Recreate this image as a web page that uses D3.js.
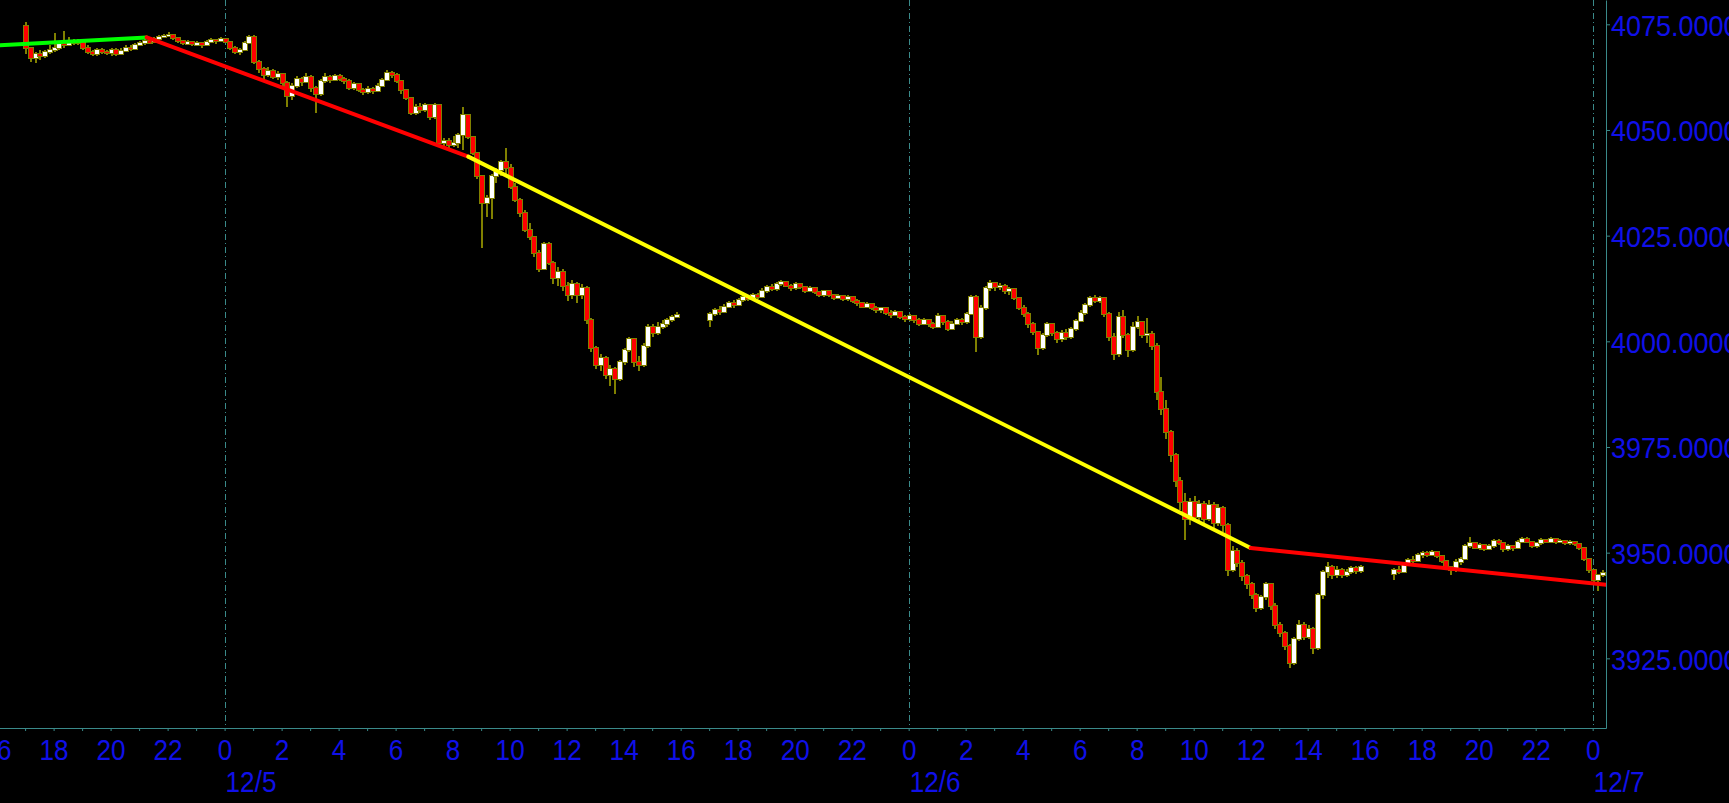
<!DOCTYPE html>
<html><head><meta charset="utf-8">
<script src="https://cdn.jsdelivr.net/npm/d3@7/dist/d3.min.js"></script>
<style>html,body{margin:0;padding:0;background:#000;overflow:hidden}</style>
</head><body><svg id="c" width="1729" height="803"></svg>
<script>
// ---- data ----
const sessionStarts = ["2022-12-04T17:00Z", "2022-12-05T17:00Z", "2022-12-06T17:00Z"];
const sessionOpens = [4074.5, 4005, 3945];
const barMinutes = 10;

const closesA = [
 4069.5,4067,4068,4067.5,4068.5,4069,
 4069.5,4070.5,4070,4071,4070.5,4071,
 4069.5,4068.5,4068,4069,4068.5,4068.2,
 4069,4068,4068.8,4069.5,4069.2,4070,
 4070.5,4071,4070.8,4071.5,4072,4072.3,
 4072.5,4071.8,4071,4070.5,4070.8,4070.3,
 4070.5,4070,4070.8,4071.3,4071,4071.5,
 4070.8,4069.5,4068.5,4069,4070.5,4072,
 4066,4064.5,4063,4064,4062.5,4063.2,
 4061,4058,4060.5,4062,4061.3,4062.5,
 4060,4058.5,4061.5,4062.5,4061.8,4062.8,
 4062,4061.5,4060,4060.8,4059.5,4059,
 4059.8,4059.2,4060.5,4061.8,4063.5,4063,
 4061.5,4059.5,4057.5,4054,4055.5,4054.7,
 4055.8,4053,4055.8,4047,4047.5,4046.5,
 4047,4048.8,4053.5,4048.3,4044.5,4039,
 4032.7,4034,4039,4040.5,4042.5,4041,
 4036.5,4033.4,4030.3,4026.3,4024.7,4020.8,
 4017,4023,4018.5,4015,4016.5,4013,
 4011,4013.5,4011,4012.5,4005,3998.5,
 3994.5,3996,3992,3993.5,3991,3995,
 3998,4000.5,3995,3994.5,3999,4003.5,
 4002,4003.5,4004,4005,4005.8,4006.3];
const highsA = [
 4075.5,4069.5,4068.5,4069,4069,4070,
 4073,4071,4073.5,4072,4071.5,4071.5,
 4071,4070,4069,4069.5,4069.5,4069,
 4069.5,4069.5,4069.3,4070,4070,4070.5,
 4071,4071.5,4071.5,4072,4072.5,4072.8,
 4073.2,4072.8,4072,4071.3,4071.2,4071,
 4071,4070.8,4071.2,4071.8,4071.6,4072,
 4071.8,4071,4069.8,4069.5,4071,4072.5,
 4072.5,4066.5,4065,4065,4064.5,4064,
 4063.5,4061.5,4061,4062.8,4062.5,4063.5,
 4063,4060.5,4062,4063.5,4063,4063.3,
 4063.2,4062.5,4062,4061.3,4061,4060,
 4060.3,4060.2,4061,4062.3,4064.2,4064,
 4063.5,4061.8,4059.8,4057.8,4056.2,4056.3,
 4056.5,4056,4056.5,4056,4048,4048,
 4048.5,4049.3,4055.4,4053.8,4048.5,4044,
 4039,4034.5,4039.5,4041,4043,4045.8,
 4042,4037.5,4034,4031,4028,4024.8,
 4021.6,4023.5,4023.5,4019,4017.5,4017,
 4014,4014.5,4014,4013.5,4013,4005.5,
 3999,3997,3996.5,3994.5,3994,3995.5,
 3998.5,4001,4000.8,3996.5,3999.5,4004,
 4004.2,4004.5,4005,4005.5,4006.3,4007];
const lowsA = [
 4068,4066,4065.8,4066.5,4067,4068,
 4068.5,4069,4069.5,4069.8,4070,4070,
 4069,4068,4067.5,4067.5,4068,4067.8,
 4067.5,4067.5,4067.8,4068.5,4068.8,4069,
 4069.8,4070,4070.3,4070.5,4071.2,4071.8,
 4072,4071.3,4070.5,4070,4070.2,4069.8,
 4069.8,4069.5,4069.8,4070.5,4070.4,4070.8,
 4070.5,4069,4068,4067.8,4068.8,4070.3,
 4065.5,4063.5,4062,4062.5,4062,4061.8,
 4060,4055.5,4057,4060,4060.5,4061,
 4059,4054,4058,4061,4061,4061.5,
 4061.5,4060.8,4059.5,4059.5,4059,4058.3,
 4058.5,4058.5,4059,4060.2,4061.5,4062.3,
 4061,4058.5,4057,4053.5,4053.5,4054,
 4054.3,4052.4,4052.6,4046.5,4046.2,4045.8,
 4046,4045.8,4045.2,4047.8,4044,4038.5,
 4022,4029.5,4029,4037.5,4039,4039.5,
 4036,4033,4029.5,4025.8,4024,4020,
 4016.5,4016.8,4018,4013.5,4013,4012,
 4009.5,4010,4009,4010,4004,3997.5,
 3993.5,3993,3991,3989.5,3987.6,3990.5,
 3994.5,3997.5,3994,3993,3994,3998.5,
 4001,4001.5,4003,4003.5,4004.5,4005.5];

const closesB = [
 4006.5,4007.5,4007,4008.2,4009,4008.5,
 4009.8,4010.5,4010,4011,4010.5,4012,
 4012.8,4012.3,4013.5,4014,4013.2,4012.5,
 4013.5,4012.8,4012,4012.5,4011.6,4011,
 4011.8,4011,4010.3,4010.8,4010,4010.5,
 4009.5,4009,4008.2,4008.8,4007.8,4007.3,
 4007.8,4006.8,4006.3,4007,4005.8,4005.3,
 4006,4005,4004.2,4005,4004,4003.5,
 4006,4004.5,4003,4004.2,4005,4004.5,
 4006.5,4010.5,4001,4008,4012.5,4013.8,
 4012.8,4013.2,4011.8,4012.3,4010.3,4008,
 4006.5,4004,4002.2,3998.5,4001.5,4004,
 4002,4000.5,4002,4001,4003,4004.8,
 4006.8,4008.5,4010.2,4009.5,4010.3,4006.5,
 4001,3997,4005.8,4001.5,3998,4003.5,
 4004.5,4001.5,4001.8,3999,3988,3984,
 3978.5,3973,3967,3962,3958,3962,
 3958.5,3961.5,3958,3961.3,3957,3960.5,
 3956.5,3946,3950.5,3947.5,3944.5,3942.5,
 3940,3937,3939.5,3942.5,3937.5,3933,
 3931,3928,3924,3929.5,3933,3930,
 3932,3927.5,3940,3945.5,3946.5,3944.8,
 3946,3944.8,3945.5,3946.3,3945.6,3946.5];
const highsB = [
 4007,4008,4008.3,4008.8,4009.5,4009.8,
 4010.3,4011,4011,4011.5,4011.5,4012.5,
 4013.3,4013.5,4014,4014.6,4014.3,4013.5,
 4014,4013.8,4013.2,4013,4012.8,4012,
 4012.2,4012,4011.3,4011.3,4011,4011,
 4010.8,4010,4009.3,4009.2,4009,4008.3,
 4008.2,4008,4007.3,4007.5,4007.2,4006.3,
 4006.5,4006.3,4005.4,4005.5,4005.3,4004.6,
 4006.6,4006.2,4005,4004.8,4005.6,4005.5,
 4007,4011,4011,4008.5,4013,4014.5,
 4014,4013.8,4013.5,4012.8,4012.5,4010.5,
 4008.5,4007,4004.5,4002.5,4002,4004.5,
 4004.3,4002.5,4002.6,4002.8,4003.5,4005.3,
 4007.3,4009,4010.8,4011,4010.8,4010.5,
 4007,4002,4007,4007.4,4002,4004.6,
 4006,4004.8,4005.5,4002.5,3999.5,3991.5,
 3986,3979,3973.5,3968,3964,3963,
 3963.5,3962.5,3962.3,3962.5,3962,3961.5,
 3961,3957,3951.5,3951,3948.3,3945,
 3943,3940.5,3940,3943,3942.8,3938,
 3933.5,3931.5,3928.5,3930,3934,3933.5,
 3933,3932.5,3940.5,3946,3947.8,3947,
 3946.8,3946.3,3946.2,3946.8,3946.8,3947];
const lowsB = [
 4003.5,4006,4006.3,4006.8,4007.8,4008,
 4008.3,4009.3,4009.5,4009.8,4010,4010.3,
 4011.5,4011.8,4012,4013,4012.8,4012,
 4012.2,4012.3,4011.5,4011.6,4011.2,4010.5,
 4010.6,4010.5,4009.8,4009.9,4009.5,4009.6,
 4009,4008.3,4007.8,4007.8,4007.3,4006.8,
 4006.8,4006.3,4005.6,4006,4005.2,4004.6,
 4004.8,4004.3,4003.6,4003.8,4003.5,4002.8,
 4003.2,4003.8,4002.4,4002.6,4003.8,4003.8,
 4004,4006.2,3997.5,4000.5,4007.5,4012,
 4012,4012.2,4011.2,4011,4009.8,4007.3,
 4005.8,4003.2,4001.5,3996.7,3998,4001,
 4001.3,3999.5,3999.8,4000.3,4000.6,4002.5,
 4004.5,4006.2,4008.2,4009,4009,4005.8,
 4000,3995.5,3996.3,4000.8,3996.3,3997.5,
 4002.8,4000.8,3999.6,3998,3986,3982.5,
 3977,3971.5,3965.5,3960,3953,3956.5,
 3957.3,3957.5,3956.7,3957.5,3955.6,3956.2,
 3955,3944.5,3945.5,3946.5,3943.3,3941.5,
 3939,3936,3936.5,3938.8,3936.5,3932,
 3930,3927,3922.8,3923.5,3929,3929.3,
 3929.5,3926,3927,3939,3944,3943.8,
 3944,3944,3944.3,3945,3945,3945.3];

const closesC = [
 3946,3945.5,3947,3948.3,3948,3949.5,
 3950,3949.4,3950.2,3949.2,3948,3946.5,
 3945.8,3947.8,3948.5,3951.5,3952.3,3951.2,
 3951.8,3950.9,3951.5,3952.8,3952.2,3950.8,
 3951.5,3951,3952.5,3953.3,3952.6,3951.6,
 3952.2,3953,3952.6,3953.2,3952.5,3952.8,
 3952.2,3952.6,3952,3951,3948.5,3945.8,
 3943.5,3944.6,3945.3];
const highsC = [
 3946.3,3946.8,3947.4,3948.8,3949.2,3950,
 3950.4,3950.3,3950.6,3950.4,3949.4,3948.2,
 3946.8,3948.5,3949,3952,3953.6,3952.6,
 3952.3,3952.1,3952,3953.2,3953.3,3952.4,
 3952,3951.8,3953,3953.8,3953.6,3952.8,
 3952.6,3953.4,3953.3,3953.6,3953.4,3953.2,
 3953,3953,3952.8,3952.2,3951.2,3948.7,
 3946,3945,3945.8];
const lowsC = [
 3943.5,3945,3945.2,3946.8,3947.6,3947.8,
 3948.8,3949,3949.1,3948.8,3947.6,3946,
 3944.7,3945.5,3947.2,3948.2,3951,3950.8,
 3950.7,3950.5,3950.6,3951.2,3951.7,3950.2,
 3950.3,3950.5,3950.8,3952.2,3952.2,3951.2,
 3951.2,3951.9,3952.2,3952.4,3952.1,3952.2,
 3951.8,3951.9,3951.6,3950.6,3948,3945.2,
 3943,3941,3944.2];

const trendGreen  = [["2022-12-04T16:00Z", 4070.0], ["2022-12-04T21:16Z", 4071.9]];
const trendRed1   = [["2022-12-04T21:16Z", 4071.9], ["2022-12-05T08:33Z", 4043.7]];
const trendYellow = [["2022-12-05T08:33Z", 4043.7], ["2022-12-06T12:00Z", 3951.1]];
const trendRed2   = [["2022-12-06T12:00Z", 3951.1], ["2022-12-07T00:30Z", 3942.4]];

const yTicks = [3925, 3950, 3975, 4000, 4025, 4050, 4075];
const dayLabels = [["2022-12-05T00:00Z", "12/5"], ["2022-12-06T00:00Z", "12/6"], ["2022-12-07T00:00Z", "12/7"]];
const xDomain = ["2022-12-04T16:00Z", "2022-12-07T00:28Z"];
const yDomain = [3908.52, 4080.75];

// ---- layout ----
const W = 1729, H = 803, plotR = 1606, plotB = 728;
const teal = "#3a8a8a", blue = "#1010e8", olive = "#808000";
const font = "'Liberation Sans',Arial,sans-serif";
const fs = 29, sx = 0.9;

const svg = d3.select("#c");
svg.append("rect").attr("width", W).attr("height", H).attr("fill", "#000");

const x = d3.scaleUtc().domain(xDomain.map(d => new Date(d))).range([-3.4, plotR]);
const y = d3.scaleLinear().domain(yDomain).range([plotB, 0]);

svg.append("defs").append("clipPath").attr("id", "clip")
  .append("rect").attr("x", 0).attr("y", 0).attr("width", plotR).attr("height", plotB);

const plot = svg.append("g").attr("clip-path", "url(#clip)");

// day separators
plot.selectAll("line.day").data(dayLabels).join("line")
  .attr("x1", d => Math.round(x(new Date(d[0]))) + 0.5).attr("x2", d => Math.round(x(new Date(d[0]))) + 0.5)
  .attr("y1", 0).attr("y2", plotB)
  .attr("stroke", teal).attr("stroke-width", 1).attr("stroke-dasharray", "6,3,1,3");

// bars
const sessions = [[closesA, highsA, lowsA], [closesB, highsB, lowsB], [closesC, highsC, lowsC]];
const bars = [];
sessions.forEach((s, si) => {
  const t0 = new Date(sessionStarts[si]).getTime();
  const [cl, hi, lo] = s;
  cl.forEach((c, i) => {
    const o = i === 0 ? sessionOpens[si] : cl[i - 1];
    bars.push({t: new Date(t0 + i * barMinutes * 60000), o, c,
      h: Math.max(hi[i], o, c), l: Math.min(lo[i], o, c)});
  });
});

const cg = plot.append("g").attr("shape-rendering", "crispEdges");
cg.selectAll("line.wick").data(bars).join("line")
  .attr("x1", d => Math.round(x(d.t)) + 1).attr("x2", d => Math.round(x(d.t)) + 1)
  .attr("y1", d => y(d.h)).attr("y2", d => y(d.l))
  .attr("stroke", olive).attr("stroke-width", 2);
cg.selectAll("rect.body").data(bars).join("rect")
  .attr("x", d => Math.round(x(d.t)) - 1.5)
  .attr("y", d => Math.min(y(d.o), y(d.c)) - 0.5)
  .attr("width", 5)
  .attr("height", d => Math.max(2.5, Math.abs(y(d.o) - y(d.c)) + 1))
  .attr("fill", d => d.c >= d.o ? "#ffffff" : "#ff0000")
  .attr("stroke", olive).attr("stroke-width", 1);

// trend lines
const line = d3.line().x(d => x(new Date(d[0]))).y(d => y(d[1]));
[[trendGreen, "#00ff00"], [trendRed1, "#ff0000"], [trendYellow, "#ffff00"], [trendRed2, "#ff0000"]]
  .forEach(([pts, col]) => {
    plot.append("path").attr("d", line(pts)).attr("fill", "none")
      .attr("stroke", col).attr("stroke-width", 4).attr("stroke-linecap", "round");
  });

// x axis
const xAxis = d3.axisBottom(x).ticks(d3.utcHour.every(1)).tickSizeInner(3).tickSizeOuter(0)
  .tickFormat(d => d.getUTCHours() % 2 === 0 ? String(d.getUTCHours()) : "");
const gx = svg.append("g").attr("transform", `translate(0,${plotB})`).call(xAxis);
gx.select(".domain").attr("stroke", teal);
gx.selectAll(".tick line").attr("stroke", teal);
gx.selectAll(".tick text").attr("fill", blue).attr("font-family", font).attr("font-size", fs)
  .attr("x", 0).attr("y", 0).attr("dy", 0).attr("transform", `translate(0,32) scale(${sx},1)`);

svg.selectAll("text.day").data(dayLabels).join("text").attr("class", "day")
  .attr("transform", d => `translate(${x(new Date(d[0])) + 1},792) scale(${sx},1)`)
  .attr("fill", blue).attr("font-family", font).attr("font-size", fs)
  .text(d => d[1]);

// y axis
const yAxis = d3.axisRight(y).tickValues(yTicks).tickSizeInner(4).tickSizeOuter(0).tickPadding(1)
  .tickFormat(d3.format(".4f"));
const gy = svg.append("g").attr("transform", `translate(${plotR},0)`).call(yAxis);
gy.select(".domain").attr("stroke", teal);
gy.selectAll(".tick line").attr("stroke", teal);
gy.selectAll(".tick text").attr("fill", blue).attr("font-family", font).attr("font-size", fs + 1)
  .attr("x", 0).attr("dy", "0.36em").attr("transform", `translate(5,0) scale(${sx},1)`);
</script></body></html>
